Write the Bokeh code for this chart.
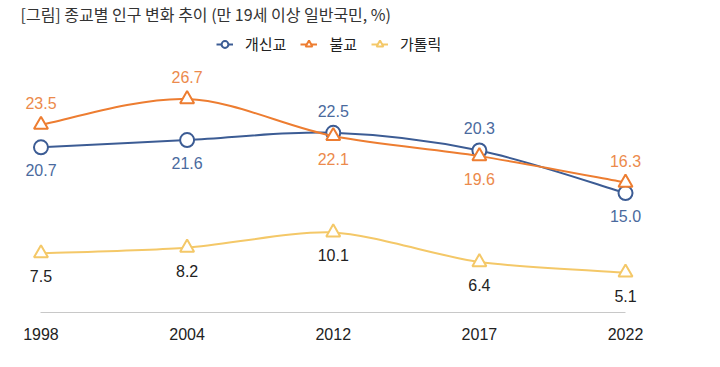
from bokeh.plotting import figure
from bokeh.models import ColumnDataSource, Range1d, FixedTicker, Legend, LegendItem, Label
from bokeh.core.properties import value
from bokeh.embed import file_html
from bokeh.resources import INLINE

# ---- data ----
years = ["1998", "2004", "2012", "2017", "2022"]
protestant = [20.7, 21.6, 22.5, 20.3, 15.0]
buddhist = [23.5, 26.7, 22.1, 19.6, 16.3]
catholic = [7.5, 8.2, 10.1, 6.4, 5.1]
series_names = ["개신교", "불교", "가톨릭"]
title_text = "[그림] 종교별 인구 변화 추이 (만 19세 이상 일반국민, %)"

# label placement (above / below the point)
prot_side = ["below", "below", "above", "above", "below"]
budd_side = ["above", "above", "below", "below", "above"]
cath_side = ["below", "below", "below", "below", "below"]

BLUE = "#3c5c94"
ORANGE = "#ed7d31"
YELLOW = "#f4c868"
KR = "Noto Sans CJK KR"
NUM = "Liberation Sans"

xs = list(range(len(years)))

p = figure(width=720, height=367, output_backend="svg", toolbar_location=None,
           x_range=Range1d(-0.277, 4.650), y_range=Range1d(0.125, 38.98),
           y_axis_location=None, min_border_left=0, min_border_right=0,
           min_border_top=0, min_border_bottom=55)
p.xgrid.visible = False
p.ygrid.visible = False
p.outline_line_color = None
p.background_fill_color = "white"
p.border_fill_color = "white"

ax = p.xaxis[0]
ax.ticker = FixedTicker(ticks=xs)
ax.major_label_overrides = {i: y for i, y in enumerate(years)}
ax.bounds = (0, len(years) - 1)
ax.axis_line_color = "#c8c8c8"
ax.axis_line_width = 1
ax.major_tick_line_color = None
ax.minor_tick_line_color = None
ax.major_label_standoff = 9
ax.major_label_text_font = NUM
ax.major_label_text_font_size = "16px"
ax.major_label_text_color = "#222222"


def smooth_source(ys, k=1 / 6):
    n = len(ys)
    d = dict(x0=[], y0=[], x1=[], y1=[], cx0=[], cy0=[], cx1=[], cy1=[])
    for i in range(n - 1):
        a = i - 1 if i > 0 else i
        b = i + 2 if i + 2 < n else i + 1
        d["x0"].append(xs[i]); d["y0"].append(ys[i])
        d["x1"].append(xs[i + 1]); d["y1"].append(ys[i + 1])
        d["cx0"].append(xs[i] + k * (xs[i + 1] - xs[a]))
        d["cy0"].append(ys[i] + k * (ys[i + 1] - ys[a]))
        d["cx1"].append(xs[i + 1] - k * (xs[b] - xs[i]))
        d["cy1"].append(ys[i + 1] - k * (ys[b] - ys[i]))
    return ColumnDataSource(d)


items = []
specs = [
    (protestant, prot_side, BLUE, "circle", "#4a6a9e", "16px", 1 / 6),
    (buddhist, budd_side, ORANGE, "triangle", "#ec8a4c", "16px", 1 / 6),
    (catholic, cath_side, YELLOW, "triangle", "#222222", "16px", 0.13),
]
for name, (vals, side, col, mk, lab_col, fsize, k) in zip(series_names, specs):
    bz = p.bezier(x0="x0", y0="y0", x1="x1", y1="y1", cx0="cx0", cy0="cy0",
                  cx1="cx1", cy1="cy1", source=smooth_source(vals, k),
                  line_color=col, line_width=2)
    sc = p.scatter(xs, vals, marker=mk, size=14, fill_color="white",
                   line_color=col, line_width=2)
    offs = [-22 if s == "above" else 23 for s in side]
    src = ColumnDataSource(dict(x=xs, y=vals, t=["%.1f" % v for v in vals], off=offs))
    p.text(x="x", y="y", text="t", y_offset="off", source=src,
           text_align="center", text_baseline="middle",
           text_font=value(NUM), text_font_size=fsize, text_color=lab_col)
    items.append(LegendItem(label=name, renderers=[bz, sc]))

legend = Legend(items=items, orientation="horizontal", location=(216, 258),
                glyph_width=17, glyph_height=18, label_height=18,
                label_standoff=12, spacing=14, padding=0, margin=0,
                border_line_color=None, background_fill_alpha=0,
                label_text_font=KR, label_text_font_size="15px",
                label_text_color="#222222")
p.add_layout(legend)

p.add_layout(Label(x=20, y=299, x_units="screen", y_units="screen",
                   text=title_text, text_font=KR, text_font_size="16px",
                   text_color="#333333", text_baseline="middle"))

open("out.html", "w").write(file_html(p, INLINE))
